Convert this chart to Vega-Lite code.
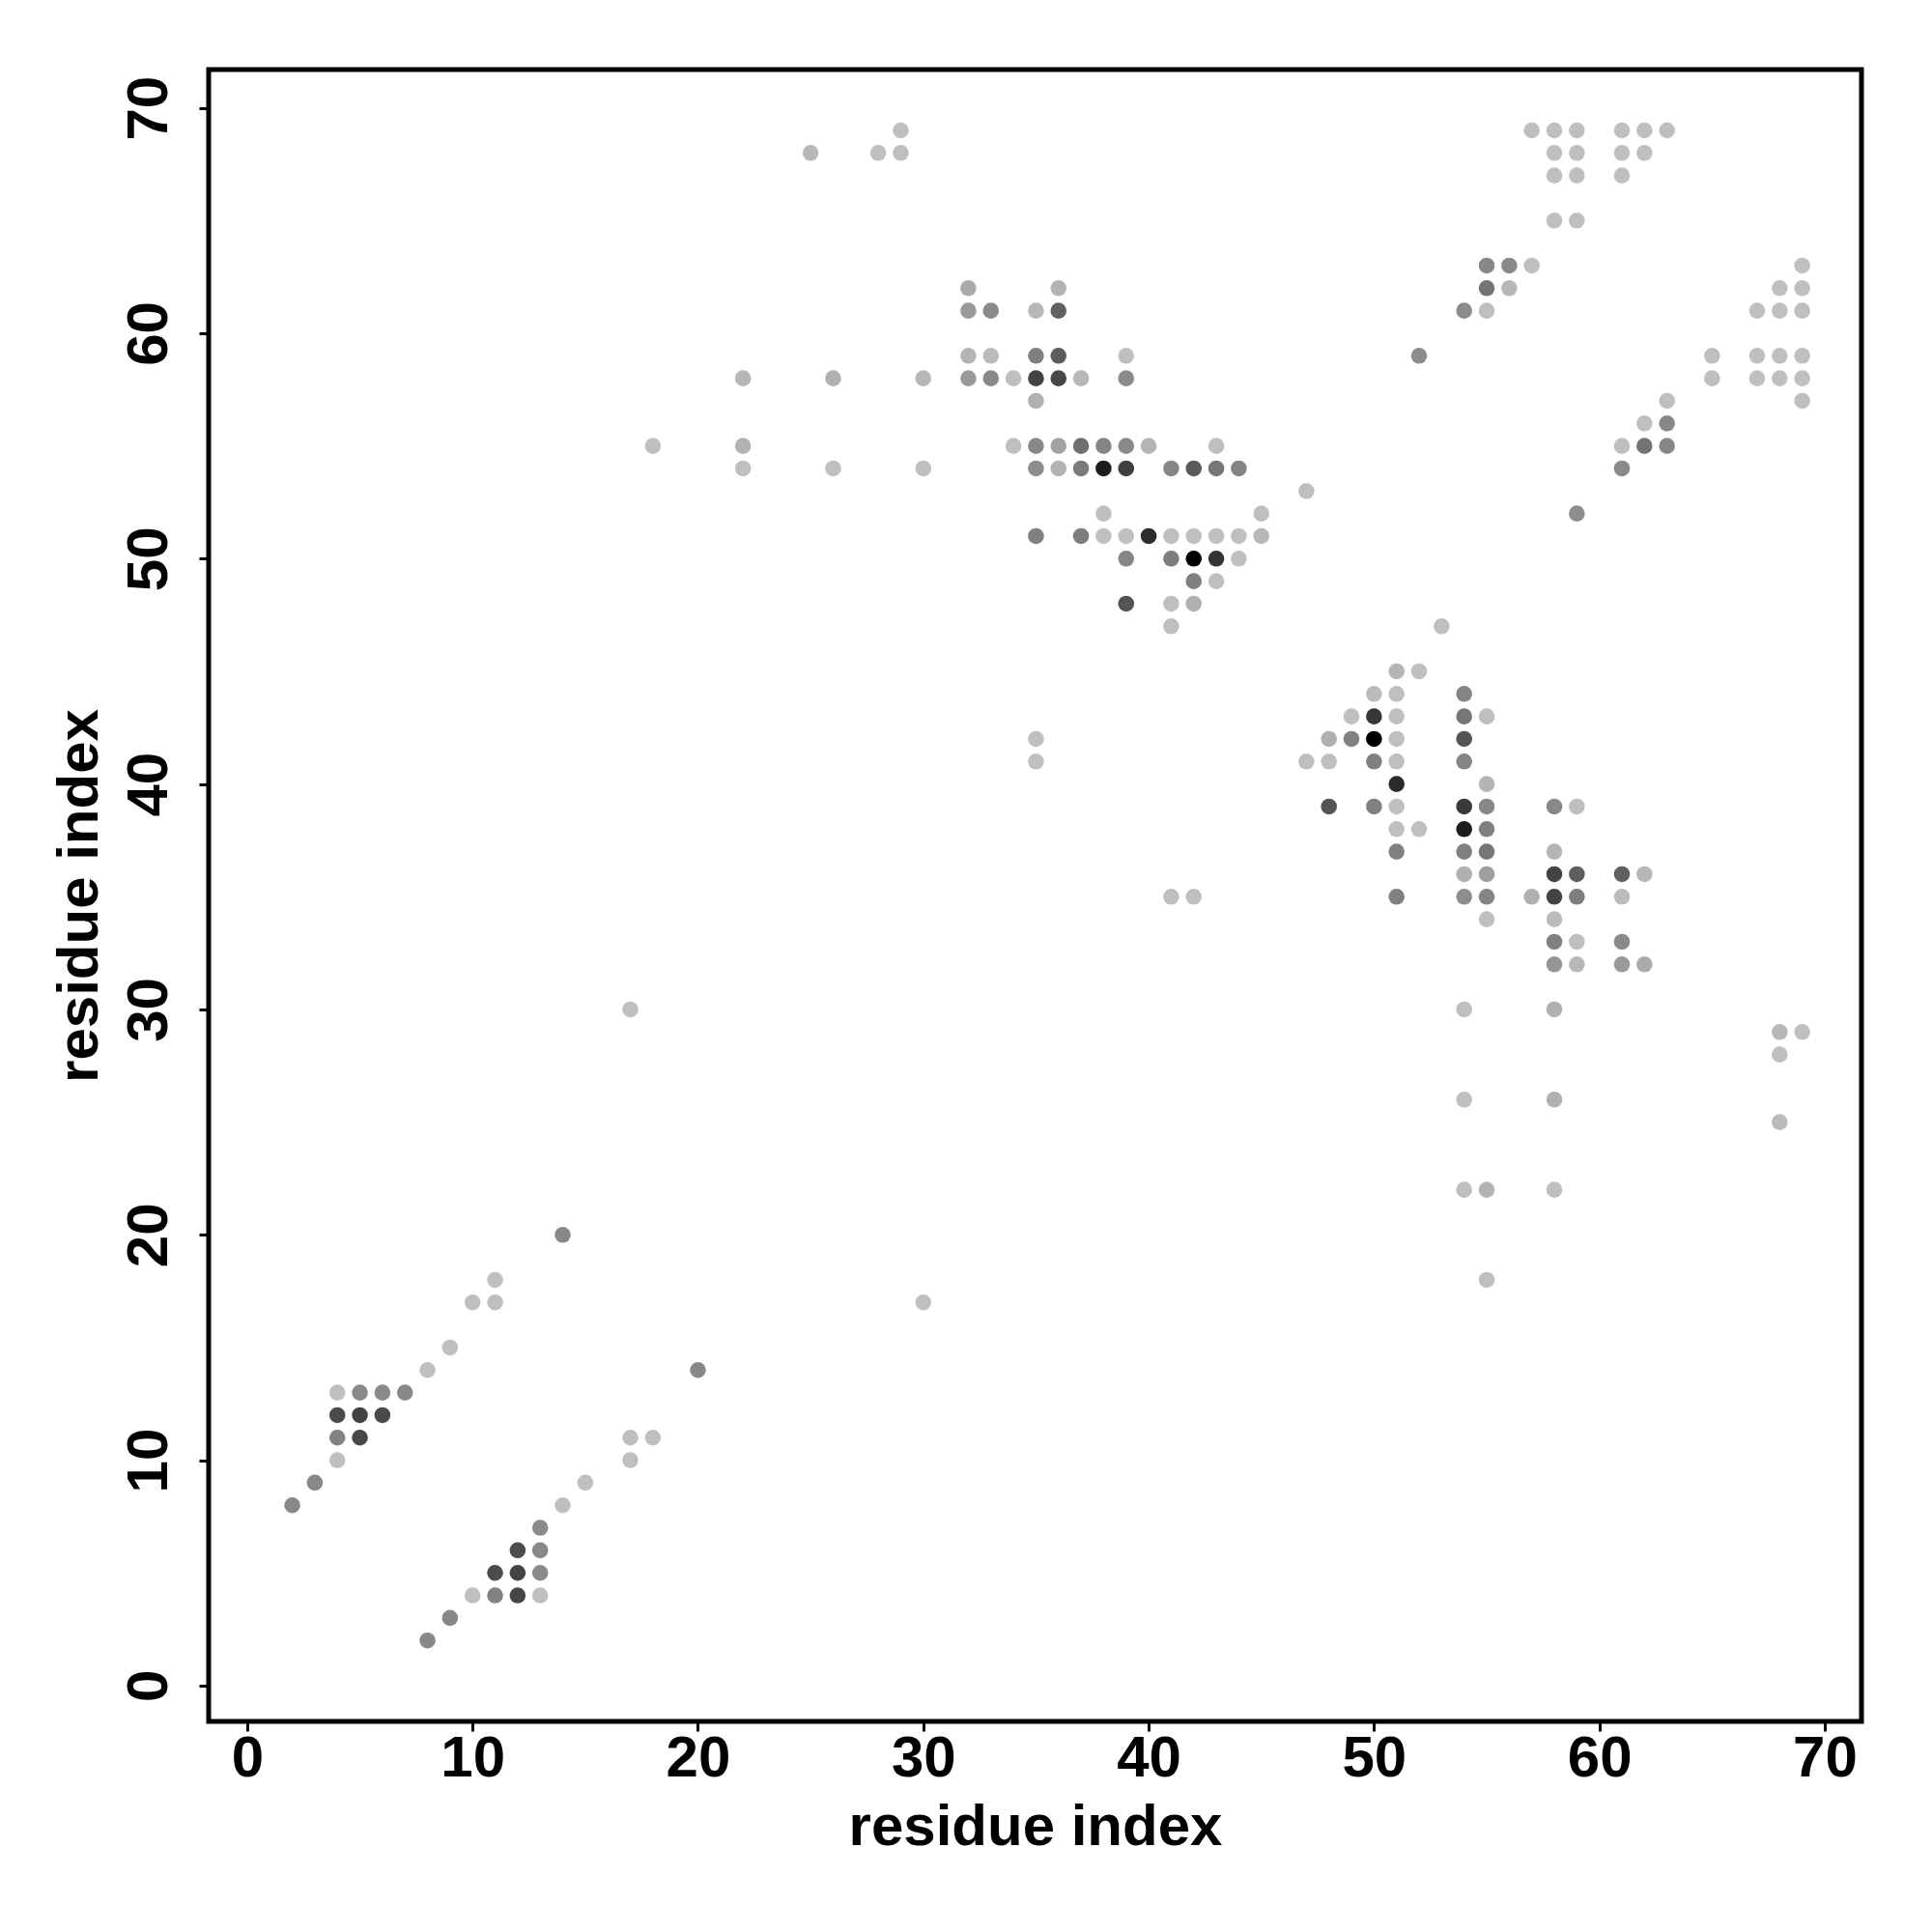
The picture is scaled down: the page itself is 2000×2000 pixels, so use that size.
{
  "$schema": "https://vega.github.io/schema/vega-lite/v6.json",
  "autosize": {"type": "none"},
  "padding": {"left": 216, "top": 72, "right": 73, "bottom": 218},
  "width": 1711,
  "height": 1710,
  "background": "white",
  "data": {"values": [
    {"i":14,"j":20,"w":0.29},{"i":11,"j":18,"w":0},{"i":10,"j":17,"w":0},{"i":11,"j":17,"w":0},
    {"i":9,"j":15,"w":0},{"i":8,"j":14,"w":0},{"i":20,"j":14,"w":0.29},
    {"i":4,"j":13,"w":0},{"i":5,"j":13,"w":0.28},{"i":6,"j":13,"w":0.28},{"i":7,"j":13,"w":0.29},
    {"i":4,"j":12,"w":0.61},{"i":5,"j":12,"w":0.65},{"i":6,"j":12,"w":0.61},
    {"i":4,"j":11,"w":0.32},{"i":5,"j":11,"w":0.63},{"i":4,"j":10,"w":0},
    {"i":3,"j":9,"w":0.29},{"i":2,"j":8,"w":0.29},
    {"i":17,"j":11,"w":0},{"i":18,"j":11,"w":0},{"i":17,"j":10,"w":0},{"i":15,"j":9,"w":0},{"i":14,"j":8,"w":0},
    {"i":13,"j":7,"w":0.28},{"i":12,"j":6,"w":0.6},{"i":13,"j":6,"w":0.29},
    {"i":11,"j":5,"w":0.6},{"i":12,"j":5,"w":0.65},{"i":13,"j":5,"w":0.28},
    {"i":10,"j":4,"w":0},{"i":11,"j":4,"w":0.32},{"i":12,"j":4,"w":0.63},{"i":13,"j":4,"w":0},
    {"i":9,"j":3,"w":0.29},{"i":8,"j":2,"w":0.29},
    {"i":17,"j":30,"w":0},{"i":30,"j":17,"w":0},{"i":35,"j":42,"w":0},{"i":35,"j":41,"w":0},{"i":41,"j":35,"w":0},{"i":42,"j":35,"w":0},
    {"i":29,"j":69,"w":0},{"i":25,"j":68,"w":0.04},{"i":28,"j":68,"w":0},{"i":29,"j":68,"w":0},
    {"i":22,"j":58,"w":0.04},{"i":26,"j":58,"w":0.08},{"i":30,"j":58,"w":0.04},{"i":18,"j":55,"w":0},{"i":22,"j":55,"w":0.07},
    {"i":22,"j":54,"w":0},{"i":26,"j":54,"w":0},{"i":30,"j":54,"w":0},
    {"i":32,"j":62,"w":0.11},{"i":36,"j":62,"w":0.06},
    {"i":32,"j":61,"w":0.2},{"i":33,"j":61,"w":0.28},{"i":35,"j":61,"w":0.04},{"i":36,"j":61,"w":0.49},
    {"i":32,"j":59,"w":0.06},{"i":33,"j":59,"w":0.02},{"i":35,"j":59,"w":0.33},{"i":36,"j":59,"w":0.52},{"i":39,"j":59,"w":0},
    {"i":32,"j":58,"w":0.2},{"i":33,"j":58,"w":0.29},{"i":34,"j":58,"w":0},{"i":35,"j":58,"w":0.65},{"i":36,"j":58,"w":0.63},{"i":37,"j":58,"w":0.04},{"i":39,"j":58,"w":0.28},
    {"i":35,"j":57,"w":0.08},
    {"i":34,"j":55,"w":0},{"i":35,"j":55,"w":0.29},{"i":36,"j":55,"w":0.15},{"i":37,"j":55,"w":0.42},{"i":38,"j":55,"w":0.31},{"i":39,"j":55,"w":0.28},{"i":40,"j":55,"w":0.06},{"i":43,"j":55,"w":0},
    {"i":35,"j":54,"w":0.26},{"i":36,"j":54,"w":0.06},{"i":37,"j":54,"w":0.36},{"i":38,"j":54,"w":0.85},{"i":39,"j":54,"w":0.67},{"i":41,"j":54,"w":0.3},{"i":42,"j":54,"w":0.53},{"i":43,"j":54,"w":0.38},{"i":44,"j":54,"w":0.31},
    {"i":38,"j":52,"w":0},{"i":45,"j":52,"w":0},
    {"i":35,"j":51,"w":0.33},{"i":37,"j":51,"w":0.35},{"i":38,"j":51,"w":0},{"i":39,"j":51,"w":0},{"i":40,"j":51,"w":0.77},{"i":41,"j":51,"w":0},{"i":42,"j":51,"w":0},{"i":43,"j":51,"w":0},{"i":44,"j":51,"w":0},{"i":45,"j":51,"w":0.04},
    {"i":39,"j":50,"w":0.3},{"i":41,"j":50,"w":0.34},{"i":42,"j":50,"w":1},{"i":43,"j":50,"w":0.73},{"i":44,"j":50,"w":0},
    {"i":42,"j":49,"w":0.33},{"i":43,"j":49,"w":0},
    {"i":39,"j":48,"w":0.56},{"i":41,"j":48,"w":0},{"i":42,"j":48,"w":0.08},{"i":41,"j":47,"w":0},
    {"i":47,"j":53,"w":0},{"i":52,"j":59,"w":0.26},
    {"i":57,"j":69,"w":0},{"i":58,"j":69,"w":0},{"i":59,"j":69,"w":0},{"i":61,"j":69,"w":0},{"i":62,"j":69,"w":0},{"i":63,"j":69,"w":0},
    {"i":58,"j":68,"w":0},{"i":59,"j":68,"w":0},{"i":61,"j":68,"w":0},{"i":62,"j":68,"w":0},
    {"i":58,"j":67,"w":0},{"i":59,"j":67,"w":0},{"i":61,"j":67,"w":0},{"i":58,"j":65,"w":0},{"i":59,"j":65,"w":0},
    {"i":55,"j":63,"w":0.29},{"i":56,"j":63,"w":0.28},{"i":57,"j":63,"w":0},
    {"i":55,"j":62,"w":0.4},{"i":56,"j":62,"w":0.04},{"i":54,"j":61,"w":0.27},{"i":55,"j":61,"w":0},
    {"i":59,"j":52,"w":0.26},
    {"i":69,"j":63,"w":0},{"i":68,"j":62,"w":0},{"i":69,"j":62,"w":0},{"i":67,"j":61,"w":0},{"i":68,"j":61,"w":0},{"i":69,"j":61,"w":0},
    {"i":65,"j":59,"w":0},{"i":67,"j":59,"w":0},{"i":68,"j":59,"w":0},{"i":69,"j":59,"w":0},
    {"i":65,"j":58,"w":0},{"i":67,"j":58,"w":0},{"i":68,"j":58,"w":0},{"i":69,"j":58,"w":0},{"i":69,"j":57,"w":0},
    {"i":63,"j":57,"w":0},{"i":62,"j":56,"w":0},{"i":63,"j":56,"w":0.29},{"i":61,"j":55,"w":0},{"i":62,"j":55,"w":0.4},{"i":63,"j":55,"w":0.29},{"i":61,"j":54,"w":0.28},
    {"i":53,"j":47,"w":0},
    {"i":51,"j":45,"w":0.06},{"i":52,"j":45,"w":0},
    {"i":50,"j":44,"w":0.02},{"i":51,"j":44,"w":0},{"i":54,"j":44,"w":0.31},
    {"i":49,"j":43,"w":0},{"i":50,"j":43,"w":0.71},{"i":51,"j":43,"w":0},{"i":54,"j":43,"w":0.38},{"i":55,"j":43,"w":0},
    {"i":48,"j":42,"w":0.08},{"i":49,"j":42,"w":0.33},{"i":50,"j":42,"w":1},{"i":51,"j":42,"w":0},{"i":54,"j":42,"w":0.56},
    {"i":47,"j":41,"w":0},{"i":48,"j":41,"w":0},{"i":50,"j":41,"w":0.33},{"i":51,"j":41,"w":0},{"i":54,"j":41,"w":0.31},
    {"i":51,"j":40,"w":0.78},{"i":55,"j":40,"w":0.06},
    {"i":48,"j":39,"w":0.56},{"i":50,"j":39,"w":0.33},{"i":51,"j":39,"w":0},{"i":54,"j":39,"w":0.7},{"i":55,"j":39,"w":0.29},{"i":58,"j":39,"w":0.29},{"i":59,"j":39,"w":0},
    {"i":51,"j":38,"w":0},{"i":52,"j":38,"w":0},{"i":54,"j":38,"w":0.85},{"i":55,"j":38,"w":0.33},
    {"i":51,"j":37,"w":0.33},{"i":54,"j":37,"w":0.33},{"i":55,"j":37,"w":0.38},{"i":58,"j":37,"w":0.06},
    {"i":54,"j":36,"w":0.08},{"i":55,"j":36,"w":0.17},{"i":58,"j":36,"w":0.65},{"i":59,"j":36,"w":0.51},{"i":61,"j":36,"w":0.5},{"i":62,"j":36,"w":0.04},
    {"i":51,"j":35,"w":0.33},{"i":54,"j":35,"w":0.26},{"i":55,"j":35,"w":0.31},{"i":57,"j":35,"w":0.08},{"i":58,"j":35,"w":0.65},{"i":59,"j":35,"w":0.34},{"i":61,"j":35,"w":0.02},
    {"i":55,"j":34,"w":0},{"i":58,"j":34,"w":0.02},
    {"i":58,"j":33,"w":0.33},{"i":59,"j":33,"w":0},{"i":61,"j":33,"w":0.28},
    {"i":58,"j":32,"w":0.22},{"i":59,"j":32,"w":0.04},{"i":61,"j":32,"w":0.2},{"i":62,"j":32,"w":0.11},
    {"i":54,"j":30,"w":0},{"i":58,"j":30,"w":0.08},{"i":68,"j":29,"w":0.04},{"i":69,"j":29,"w":0},{"i":68,"j":28,"w":0},
    {"i":54,"j":26,"w":0},{"i":58,"j":26,"w":0.08},{"i":68,"j":25,"w":0.02},
    {"i":54,"j":22,"w":0},{"i":55,"j":22,"w":0.06},{"i":58,"j":22,"w":0},{"i":55,"j":18,"w":0}
  ]},
  "mark": {"type": "circle", "size": 275, "opacity": 1},
  "encoding": {
    "x": {"field": "i", "type": "quantitative",
      "scale": {"domain": [-1.71, 71.63], "nice": false, "zero": false},
      "axis": {"title": "residue index", "values": [0,10,20,30,40,50,60,70], "grid": false, "domain": false,
        "ticks": true, "tickColor": "#000", "tickWidth": 3, "tickSize": 10,
        "labelFont": "Liberation Sans", "labelFontWeight": "bold", "labelFontSize": 60, "labelColor": "#000",
        "labelPadding": 46, "labelBaseline": "alphabetic", "labelAngle": 0, "labelAlign": "center", "labelFlush": false,
        "titleFont": "Liberation Sans", "titleFontWeight": "bold", "titleFontSize": 60, "titleColor": "#000",
        "titleX": 855.5, "titleY": 127, "titleBaseline": "alphabetic", "titleAlign": "center", "titleAngle": 0}},
    "y": {"field": "j", "type": "quantitative",
      "scale": {"domain": [-1.59, 71.7], "nice": false, "zero": false},
      "axis": {"title": "residue index", "values": [0,10,20,30,40,50,60,70], "grid": false, "domain": false,
        "ticks": true, "tickColor": "#000", "tickWidth": 3, "tickSize": 10,
        "labelFont": "Liberation Sans", "labelFontWeight": "bold", "labelFontSize": 60, "labelColor": "#000",
        "labelPadding": 34, "labelBaseline": "alphabetic", "labelAngle": 270, "labelAlign": "center", "labelFlush": false,
        "titleFont": "Liberation Sans", "titleFontWeight": "bold", "titleFontSize": 60, "titleColor": "#000",
        "titleX": -116, "titleY": 855, "titleBaseline": "alphabetic", "titleAlign": "center", "titleAngle": 270}},
    "color": {"field": "w", "type": "quantitative",
      "scale": {"domain": [0, 1], "range": ["#bfbfbf", "#000000"], "interpolate": "rgb"},
      "legend": null}
  },
  "config": {"view": {"stroke": "#000", "strokeWidth": 5, "fill": "white"}}
}
